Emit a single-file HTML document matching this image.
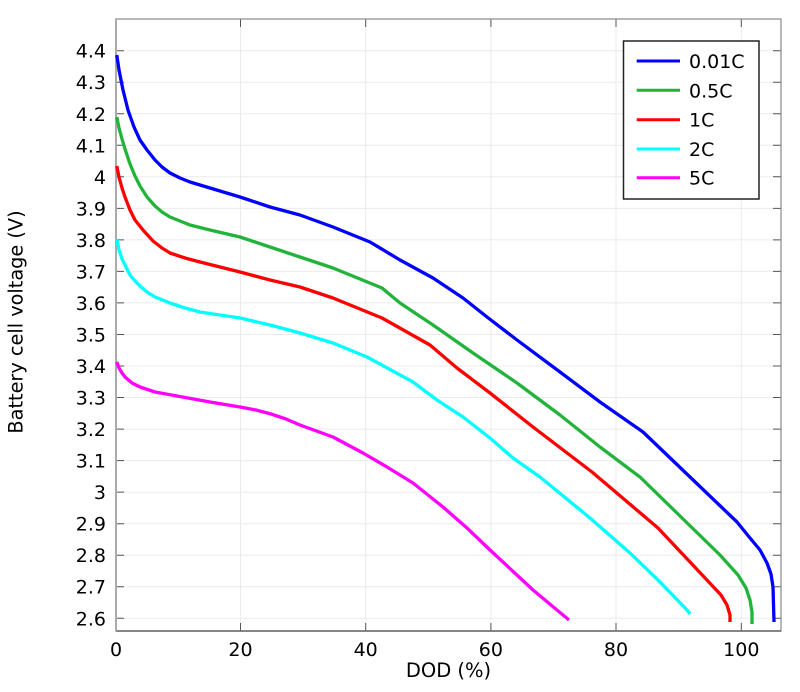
<!DOCTYPE html>
<html><head><meta charset="utf-8"><style>
html,body{margin:0;padding:0;background:#fff;}
svg{display:block;}
text{font-family:"DejaVu Sans","Liberation Sans",sans-serif;fill:#000;}
</style></head><body>
<svg width="800" height="692" viewBox="0 0 800 692" xmlns="http://www.w3.org/2000/svg">
<rect x="0" y="0" width="800" height="692" fill="#fff"/>
<g stroke="#ebebeb" stroke-width="1">
<line x1="116" y1="50.7" x2="781" y2="50.7"/>
<line x1="116" y1="82.2" x2="781" y2="82.2"/>
<line x1="116" y1="113.8" x2="781" y2="113.8"/>
<line x1="116" y1="145.3" x2="781" y2="145.3"/>
<line x1="116" y1="176.8" x2="781" y2="176.8"/>
<line x1="116" y1="208.4" x2="781" y2="208.4"/>
<line x1="116" y1="239.9" x2="781" y2="239.9"/>
<line x1="116" y1="271.4" x2="781" y2="271.4"/>
<line x1="116" y1="302.9" x2="781" y2="302.9"/>
<line x1="116" y1="334.5" x2="781" y2="334.5"/>
<line x1="116" y1="366.0" x2="781" y2="366.0"/>
<line x1="116" y1="397.5" x2="781" y2="397.5"/>
<line x1="116" y1="429.1" x2="781" y2="429.1"/>
<line x1="116" y1="460.6" x2="781" y2="460.6"/>
<line x1="116" y1="492.1" x2="781" y2="492.1"/>
<line x1="116" y1="523.7" x2="781" y2="523.7"/>
<line x1="116" y1="555.2" x2="781" y2="555.2"/>
<line x1="116" y1="586.7" x2="781" y2="586.7"/>
<line x1="116" y1="618.3" x2="781" y2="618.3"/>
<line x1="240.5" y1="19" x2="240.5" y2="631"/>
<line x1="365.7" y1="19" x2="365.7" y2="631"/>
<line x1="490.9" y1="19" x2="490.9" y2="631"/>
<line x1="616" y1="19" x2="616" y2="631"/>
<line x1="741.3" y1="19" x2="741.3" y2="631"/>
</g>
<g stroke="#555" stroke-width="1">
<path d="M116 50.7h8M116 82.2h8M116 113.8h8M116 145.3h8M116 176.8h8M116 208.4h8M116 239.9h8M116 271.4h8M116 302.9h8M116 334.5h8M116 366h8M116 397.5h8M116 429.1h8M116 460.6h8M116 492.1h8M116 523.7h8M116 555.2h8M116 586.7h8M116 618.3h8"/>
<path d="M781 50.7h-8M781 82.2h-8M781 113.8h-8M781 145.3h-8M781 176.8h-8M781 208.4h-8M781 239.9h-8M781 271.4h-8M781 302.9h-8M781 334.5h-8M781 366h-8M781 397.5h-8M781 429.1h-8M781 460.6h-8M781 492.1h-8M781 523.7h-8M781 555.2h-8M781 586.7h-8M781 618.3h-8"/>
<path d="M240.5 19v8M365.7 19v8M490.9 19v8M616 19v8M741.3 19v8"/>
<path d="M240.5 631v-8M365.7 631v-8M490.9 631v-8M616 631v-8M741.3 631v-8"/>
</g>
<rect x="116" y="19" width="665" height="612" fill="none" stroke="#888" stroke-width="1.2"/>
<line x1="116" y1="631" x2="781" y2="631" stroke="#666" stroke-width="1.5"/>
<line x1="116" y1="19" x2="116" y2="631" stroke="#aaa" stroke-width="2"/>

<g fill="none" stroke-width="3.3" stroke-linejoin="round" stroke-linecap="butt">
<polyline stroke="#0000ff" points="116.8,55 119,70 123,90 128,110 134,127 140,140 147,150 155,160 162,167 170,173 180,178 190,182 210,188 240,197 270,207 300,215 333,227 370,242 400,260 433,278 463,298 487,317 517,340 560,372 600,402 643,432 690,477 737,522 750,538 760,550 767,563 771,574 773,587 774,622"/>
<polyline stroke="#22b33a" points="116.8,117 119,128 122,139 125,149 130,164 135,176 140,186 147,197 155,206 162,212 170,217 180,221 190,225 210,230 240,237 270,247 300,257 333,268 382,288 400,303 433,325 473,353 517,383 560,415 600,447 640,477 680,516 720,555 738,575 746,588 750,600 752,612 752,624"/>
<polyline stroke="#ff0000" points="116.8,166 119,177 122,188 125,197 130,210 135,220 143,230 153,241 162,248 170,253 185,258 200,262 240,272 270,280 300,287 333,298 382,318 430,345 457,368 490,393 533,427 592,472 625,500 658,528 690,562 721,595 727,605 730,615 730,622"/>
<polyline stroke="#00ffff" points="116.8,239 119,250 122,259 125,265 130,275 135,281 140,286 147,292 155,297 170,303 185,308 200,312 240,318 270,325 300,333 333,343 367,357 413,382 437,400 463,417 490,438 513,458 540,477 590,518 630,553 660,582 687,610 690,614"/>
<polyline stroke="#ff00ff" points="116.8,362 119,368 122,373 125,377 132,383 140,387 155,392 177,396 210,402 240,407 256,410 271,414 286,419 300,425 333,437 363,453 387,467 413,483 443,507 467,528 490,550 533,590 569,620"/>
</g>

<g font-size="19" text-anchor="end">
<text x="106" y="57.7">4.4</text>
<text x="106" y="89.2">4.3</text>
<text x="106" y="120.8">4.2</text>
<text x="106" y="152.3">4.1</text>
<text x="106" y="183.8">4</text>
<text x="106" y="215.4">3.9</text>
<text x="106" y="246.9">3.8</text>
<text x="106" y="278.4">3.7</text>
<text x="106" y="309.9">3.6</text>
<text x="106" y="341.5">3.5</text>
<text x="106" y="373">3.4</text>
<text x="106" y="404.5">3.3</text>
<text x="106" y="436.1">3.2</text>
<text x="106" y="467.6">3.1</text>
<text x="106" y="499.1">3</text>
<text x="106" y="530.7">2.9</text>
<text x="106" y="562.2">2.8</text>
<text x="106" y="593.7">2.7</text>
<text x="106" y="625.3">2.6</text>
</g>
<g font-size="19" text-anchor="middle">
<text x="116" y="656">0</text>
<text x="240.5" y="656">20</text>
<text x="365.7" y="656">40</text>
<text x="490.9" y="656">60</text>
<text x="616" y="656">80</text>
<text x="741.3" y="656">100</text>
</g>
<text x="448.5" y="677" font-size="19.5" text-anchor="middle">DOD (%)</text>
<text x="0" y="0" font-size="19.3" text-anchor="middle" transform="translate(22.7,322) rotate(-90)">Battery cell voltage (V)</text>

<rect x="623.5" y="41" width="135.5" height="158" fill="#fff" stroke="#222" stroke-width="1.5"/>
<g stroke-width="3">
<line x1="636.7" y1="61" x2="680" y2="61" stroke="#0000ff"/>
<line x1="636.7" y1="90.3" x2="680" y2="90.3" stroke="#22b33a"/>
<line x1="636.7" y1="119.7" x2="680" y2="119.7" stroke="#ff0000"/>
<line x1="636.7" y1="149" x2="680" y2="149" stroke="#00ffff"/>
<line x1="636.7" y1="177.7" x2="680" y2="177.7" stroke="#ff00ff"/>
</g>
<g font-size="19">
<text x="689" y="68">0.01C</text>
<text x="689" y="97.3">0.5C</text>
<text x="689" y="126.7">1C</text>
<text x="689" y="156">2C</text>
<text x="689" y="184.7">5C</text>
</g>
</svg>
</body></html>
